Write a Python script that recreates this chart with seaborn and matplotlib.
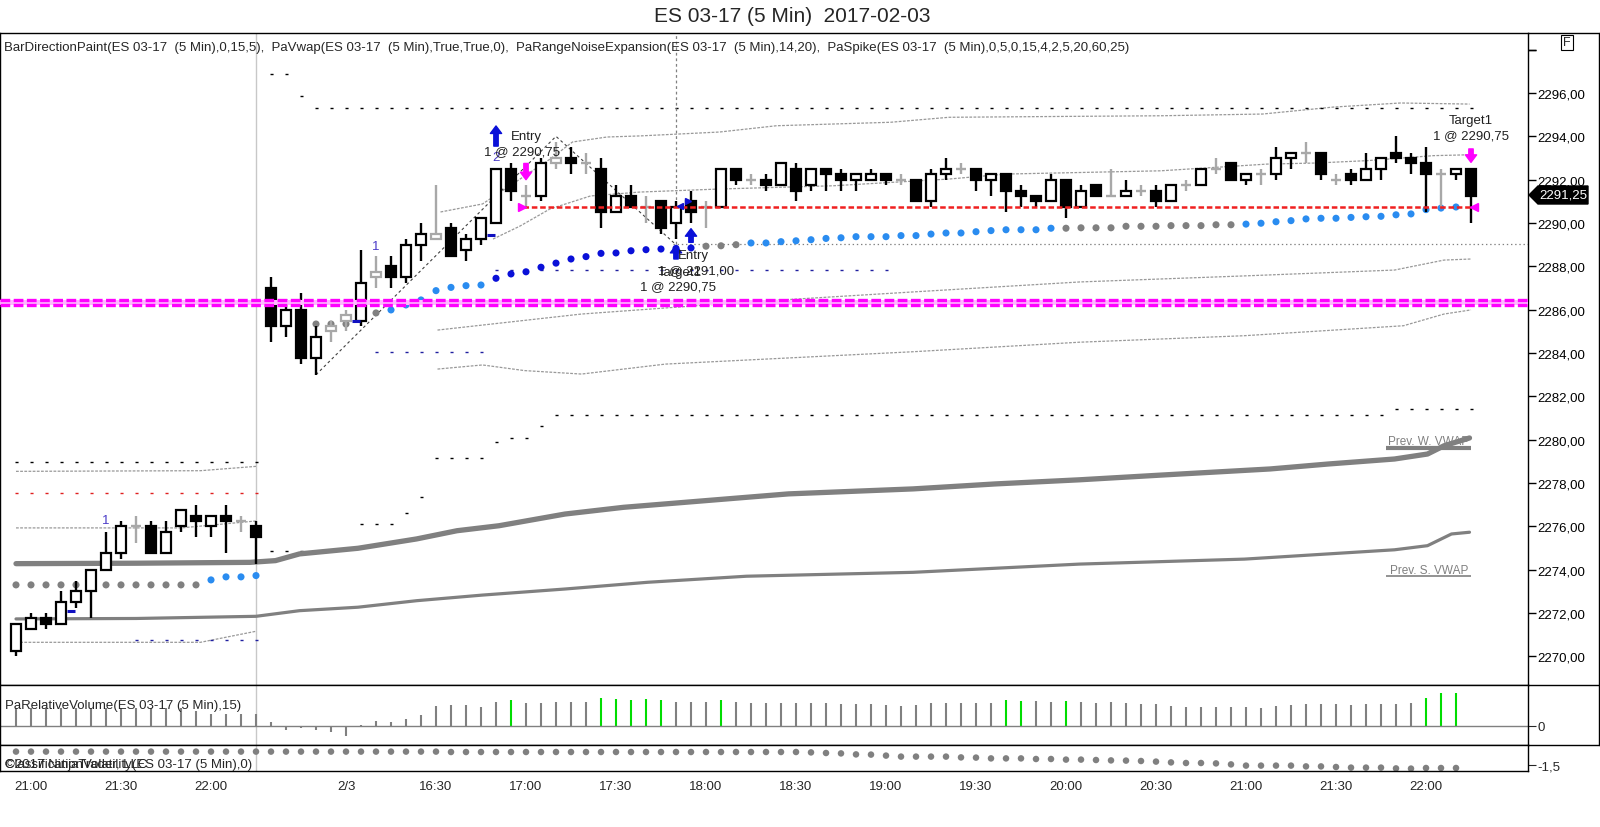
import matplotlib
matplotlib.use("Agg")
import matplotlib.pyplot as plt
import seaborn as sns
from matplotlib.lines import Line2D
from matplotlib.patches import Polygon

# ---------------- data ----------------
title = "ES 03-17 (5 Min)  2017-02-03"
header = ("BarDirectionPaint(ES 03-17  (5 Min),0,15,5),  PaVwap(ES 03-17  (5 Min),True,True,0),  "
          "PaRangeNoiseExpansion(ES 03-17  (5 Min),14,20),  "
          "PaSpike(ES 03-17  (5 Min),0,5,0,15,4,2,5,20,60,25)")

opens = [2270.25, 2271.25, 2271.75, 2271.5, 2272.5, 2273.0, 2274.0, 2274.75, 2276.0, 2276.0,
         2274.75, 2276.0, 2276.5, 2276.0, 2276.5, 2276.25, 2276.0, 2287.0, 2285.25, 2286.0,
         2283.75, 2285.0, 2285.5, 2285.5, 2287.5, 2288.0, 2287.5, 2289.0, 2289.25, 2289.75,
         2288.75, 2289.25, 2290.0, 2292.5, 2291.25, 2291.25, 2292.75, 2293.0, 2292.75, 2292.5,
         2290.5, 2291.25, 2290.75, 2291.0, 2290.0, 2291.0, 2290.75, 2290.75, 2292.5, 2292.0,
         2292.0, 2291.75, 2292.5, 2291.75, 2292.5, 2292.25, 2292.0, 2292.0, 2292.25, 2292.0,
         2292.0, 2291.0, 2292.25, 2292.5, 2292.5, 2292.0, 2292.25, 2291.5, 2291.25, 2291.0,
         2292.0, 2290.75, 2291.75, 2291.25, 2291.25, 2291.5, 2291.5, 2291.0, 2291.75, 2291.75,
         2292.5, 2292.75, 2292.0, 2292.25, 2292.25, 2293.0, 2293.25, 2293.25, 2292.0, 2292.25,
         2292.0, 2292.5, 2293.25, 2293.0, 2292.75, 2292.25, 2292.25, 2292.5]
highs = [2271.5, 2272.0, 2272.0, 2273.0, 2273.5, 2274.0, 2275.75, 2276.25, 2276.5, 2276.25,
         2276.25, 2276.75, 2277.0, 2276.5, 2277.0, 2276.5, 2276.25, 2287.5, 2286.5, 2286.75,
         2285.25, 2285.5, 2286.0, 2288.75, 2288.5, 2288.5, 2289.25, 2290.0, 2291.75, 2290.0,
         2289.5, 2290.25, 2292.5, 2292.75, 2291.75, 2293.0, 2293.75, 2293.5, 2293.25, 2293.0,
         2291.75, 2291.75, 2291.25, 2291.0, 2291.0, 2291.5, 2291.0, 2292.5, 2292.5, 2292.25,
         2292.25, 2292.75, 2292.75, 2292.5, 2292.5, 2292.5, 2292.25, 2292.5, 2292.25, 2292.25,
         2292.0, 2292.5, 2293.0, 2292.75, 2292.5, 2292.25, 2292.25, 2291.75, 2291.25, 2292.25,
         2292.0, 2291.75, 2291.75, 2292.5, 2292.0, 2291.75, 2291.75, 2291.75, 2292.0, 2292.5,
         2293.0, 2292.75, 2292.25, 2292.5, 2293.5, 2293.25, 2293.75, 2293.25, 2292.25, 2292.5,
         2293.25, 2293.0, 2294.0, 2293.25, 2293.5, 2292.5, 2292.5, 2292.5]
lows = [2270.0, 2271.25, 2271.25, 2271.5, 2272.25, 2271.75, 2274.0, 2274.5, 2275.25, 2274.75,
        2274.75, 2275.75, 2275.5, 2275.5, 2274.75, 2275.75, 2274.25, 2284.5, 2284.75, 2283.5,
        2283.0, 2284.5, 2285.0, 2285.25, 2287.0, 2287.0, 2287.25, 2288.25, 2289.25, 2288.5,
        2288.25, 2289.0, 2290.0, 2291.0, 2290.75, 2291.0, 2292.5, 2292.25, 2292.25, 2289.75,
        2290.5, 2290.75, 2290.0, 2289.5, 2289.25, 2290.0, 2289.75, 2290.75, 2291.75, 2291.75,
        2291.5, 2291.75, 2291.0, 2291.5, 2291.5, 2291.5, 2291.5, 2292.0, 2291.75, 2291.75,
        2291.0, 2290.75, 2292.0, 2292.25, 2291.5, 2291.25, 2290.5, 2290.75, 2290.75, 2291.0,
        2290.25, 2290.75, 2291.25, 2291.25, 2291.25, 2291.25, 2290.75, 2291.0, 2291.5, 2291.75,
        2292.25, 2292.0, 2291.75, 2291.75, 2292.0, 2292.5, 2292.75, 2292.0, 2291.75, 2291.75,
        2292.0, 2292.0, 2292.75, 2292.25, 2290.5, 2290.75, 2292.0, 2290.0]
closes = [2271.5, 2271.75, 2271.5, 2272.5, 2273.0, 2274.0, 2274.75, 2276.0, 2276.0, 2274.75,
          2275.75, 2276.75, 2276.25, 2276.5, 2276.25, 2276.25, 2275.5, 2285.25, 2286.0, 2283.75,
          2284.75, 2285.25, 2285.75, 2287.25, 2287.75, 2287.5, 2289.0, 2289.5, 2289.5, 2288.5,
          2289.25, 2290.25, 2292.5, 2291.5, 2291.25, 2292.75, 2293.0, 2292.75, 2292.75, 2290.5,
          2291.25, 2290.75, 2290.75, 2289.75, 2290.75, 2290.5, 2290.75, 2292.5, 2292.0, 2292.0,
          2291.75, 2292.75, 2291.5, 2292.5, 2292.25, 2292.0, 2292.25, 2292.25, 2292.0, 2292.0,
          2291.0, 2292.25, 2292.5, 2292.5, 2292.0, 2292.25, 2291.5, 2291.25, 2291.0, 2292.0,
          2290.75, 2291.5, 2291.25, 2291.25, 2291.5, 2291.5, 2291.0, 2291.75, 2291.75, 2292.5,
          2292.5, 2292.0, 2292.25, 2292.25, 2293.0, 2293.25, 2293.25, 2292.25, 2292.0, 2292.0,
          2292.5, 2293.0, 2293.0, 2292.75, 2292.25, 2292.25, 2292.5, 2291.25]
gray_bars = [8, 15, 21, 22, 24, 28, 34, 36, 38, 42, 46, 49, 59, 63, 73, 75, 78, 80, 83, 86, 88, 95]

# PaVwap dots
dot_bars = list(range(0, 17)) + list(range(20, 97))
dot_vals = [2273.3] * 13 + [2273.53, 2273.67, 2273.67, 2273.73] + [
    2285.34, 2285.34, 2285.34, 2285.6, 2285.85, 2285.99, 2286.22, 2286.45, 2286.88, 2287.03,
    2287.11, 2287.14, 2287.45, 2287.65, 2287.75, 2287.96, 2288.15, 2288.34, 2288.45, 2288.6,
    2288.62, 2288.72, 2288.77, 2288.8, 2288.83, 2288.85, 2288.93, 2288.95, 2289.0, 2289.08,
    2289.08, 2289.14, 2289.18, 2289.23, 2289.29, 2289.32, 2289.37, 2289.37, 2289.37, 2289.42,
    2289.42, 2289.49, 2289.54, 2289.54, 2289.6, 2289.65, 2289.69, 2289.69, 2289.69, 2289.76,
    2289.76, 2289.78, 2289.78, 2289.78, 2289.85, 2289.85, 2289.85, 2289.88, 2289.88, 2289.88,
    2289.92, 2289.92, 2289.95, 2289.99, 2290.06, 2290.11, 2290.19, 2290.22, 2290.22, 2290.26,
    2290.29, 2290.31, 2290.38, 2290.42, 2290.62, 2290.69, 2290.74]
dot_state = (['flat'] * 13 + ['up'] * 4 + ['flat'] * 5 + ['up'] * 7 + ['strong'] * 14
             + ['flat'] * 3 + ['up'] * 21 + ['flat'] * 12 + ['up'] * 15)

# PaVwap lines (session vwap + previous session vwap)
vwap_x = [0, 8, 15.6, 17.3, 18.9, 22.8, 26.7, 29.4, 32.2, 36.6, 40.5, 46, 51.5, 59.8, 65.3,
          70.9, 76.4, 83.6, 87.5, 91.9, 94.1, 95.2, 96.9]
vwap_y = [2274.28, 2274.3, 2274.34, 2274.42, 2274.73, 2274.99, 2275.42, 2275.8, 2276.03,
          2276.57, 2276.88, 2277.19, 2277.5, 2277.73, 2277.96, 2278.15, 2278.37, 2278.65,
          2278.88, 2279.11, 2279.34, 2279.72, 2280.08]
svwap_x = [0, 8, 16, 18.9, 22.8, 26.7, 31.1, 36.6, 42.1, 48.7, 59.8, 70.9, 81.9, 91.9, 94.1,
           95.7, 96.9]
svwap_y = [2271.73, 2271.75, 2271.85, 2272.11, 2272.27, 2272.57, 2272.83, 2273.11, 2273.42,
           2273.7, 2273.88, 2274.26, 2274.49, 2274.92, 2275.11, 2275.65, 2275.73]
prev_w_vwap = 2279.62
prev_s_vwap = 2273.7

# PaRangeNoiseExpansion bands
bands = [
    ([0, 12.3, 16], [2278.54, 2278.57, 2278.77]),
    ([0, 11, 16], [2275.93, 2275.93, 2276.25]),
    ([0, 12.3, 16], [2270.65, 2270.65, 2271.16]),
    ([28.3, 31.1, 33.8, 35.6, 37.1, 39.4, 41.6, 46.9, 50.7, 58.3, 62.2, 69.9, 76.3, 83.1,
      87.8, 92.3, 96.9],
     [2290.51, 2290.88, 2292.12, 2292.95, 2293.74, 2293.97, 2294.02, 2294.2, 2294.49,
      2294.65, 2294.88, 2294.92, 2294.95, 2295.03, 2295.35, 2295.54, 2295.49]),
    ([31.8, 33.6, 35.6, 38.3, 41.6, 46.9, 54.5, 62.2, 66, 76.3, 83.4, 86.7, 90.1, 94.5, 96.9],
     [2289.26, 2289.86, 2290.65, 2291.25, 2291.43, 2291.57, 2291.72, 2292.03, 2292.26,
      2292.41, 2292.72, 2292.77, 2292.88, 2293.11, 2293.15]),
    ([28.1, 37.7, 48.7, 59.8, 70.9, 81.9, 91.9, 95.2, 97],
     [2285.06, 2285.8, 2286.35, 2286.82, 2287.28, 2287.56, 2287.83, 2288.29, 2288.34]),
    ([28.1, 31.1, 33.9, 37.7, 43.3, 59.8, 70.9, 81.9, 92.5, 95.2, 97],
     [2283.26, 2283.45, 2283.19, 2283.03, 2283.49, 2284.06, 2284.5, 2284.8, 2285.26,
      2285.8, 2285.99]),
]

# dashed level steps: (first bar, last bar, price, colour)
steps = [
    (0, 16, 2278.96, 'black'), (0, 16, 2277.54, '#e02020'), (8, 16, 2270.76, '#2020a0'),
    (17, 18, 2296.9, 'black'), (19, 19, 2295.85, 'black'), (20, 97, 2295.33, 'black'),
    (17, 19, 2274.85, 'black'), (23, 25, 2276.1, 'black'), (26, 26, 2276.6, 'black'),
    (27, 27, 2277.37, 'black'), (28, 31, 2279.15, 'black'), (32, 32, 2279.88, 'black'),
    (33, 34, 2280.1, 'black'), (35, 35, 2280.62, 'black'), (36, 91, 2281.14, 'black'),
    (92, 97, 2281.4, 'black'), (24, 31, 2284.06, '#2020a0'), (32, 58, 2287.85, '#2020a0'),
]

spike_marks = [(4, 2272.1), (23, 2285.48), (32, 2289.46)]
swing_labels = [(6, 2276.0, '1'), (24, 2288.65, '1'), (32, 2292.75, '2')]
zigzag_x = [20, 36, 44]
zigzag_y = [2283.0, 2294.0, 2289.0]

magenta_levels = [2286.45, 2286.2]
entry_price = 2290.75
entry_bar = 34
cross_bar = 44
cross_price = 2289.03

# PaRelativeVolume
vol_vals = [1.73] * 12 + [1.5, 1.17, 1.17, 1.17, 1.17,
    0.4, -0.4, -0.23, -0.4, -0.67, -1.0, 0.05, 0.5, 0.4, 0.67, 1.1, 2.0, 2.1, 2.1, 1.83,
    2.4, 2.6, 2.27, 2.27, 2.33, 2.33, 2.33, 2.77, 2.67, 2.6, 2.67, 2.6, 2.4, 2.4, 2.4, 2.6,
    2.4, 2.27, 2.27, 2.27, 2.27, 2.27, 2.27, 2.17, 2.17, 2.17, 2.07, 2.0, 2.07, 2.27, 2.27,
    2.27, 2.27, 2.27, 2.57, 2.43, 2.43, 2.33, 2.43, 2.33, 2.27, 2.33, 2.27, 2.17, 2.17, 2.0,
    1.83, 1.83, 1.83, 1.83, 1.83, 1.73, 2.0, 2.1, 2.17, 2.17, 2.17, 2.07, 2.17, 2.17, 2.17,
    2.27, 2.77, 3.27, 3.27]
vol_green = [33, 39, 40, 41, 42, 43, 47, 66, 67, 70, 94, 95, 96]

# ClassificationVolatility
class_vals = [-0.83] * 29 + [-0.85] * 24 + [
    -0.87, -0.9, -0.92, -0.97, -0.98, -1.03, -1.08, -1.08, -1.08, -1.08, -1.12, -1.13, -1.17,
    -1.17, -1.17, -1.2, -1.2, -1.23, -1.23, -1.25, -1.27, -1.28, -1.3, -1.33, -1.37, -1.4,
    -1.4, -1.42, -1.47, -1.53, -1.53, -1.53, -1.53, -1.57, -1.57, -1.6, -1.63, -1.63, -1.63,
    -1.67, -1.68, -1.65, -1.65, -1.65]

tick_pos = [1, 7, 13, 22, 28, 34, 40, 46, 52, 58, 64, 70, 76, 82, 88, 94]
tick_lab = ['21:00', '21:30', '22:00', '2/3', '16:30', '17:00', '17:30', '18:00', '18:30',
            '19:00', '19:30', '20:00', '20:30', '21:00', '21:30', '22:00']
price_ticks = list(range(2270, 2300, 2))
last_price = 2291.25

# ---------------- drawing ----------------
sns.set_style("white")
plt.rcParams['font.family'] = ['Liberation Sans Narrow', 'Liberation Sans', 'DejaVu Sans']
plt.rcParams['lines.scale_dashes'] = False

W, H = 1600, 828
fig = plt.figure(figsize=(W / 100, H / 100), dpi=100)


def box(top, bottom, right=1528):
    return [0, 1 - bottom / H, right / W, (bottom - top) / H]


ax = fig.add_axes(box(34, 686))
axv = fig.add_axes(box(686, 745.7), sharex=ax)
axc = fig.add_axes(box(745.7, 772.3), sharex=ax)
x_lo, x_hi = -16 / 15, 100.8
ax.set_xlim(x_lo, x_hi)
ax.set_ylim(2268.68, 2298.77)
axv.set_ylim(-1.9, 4.07)
axc.set_ylim(-1.815, -0.485)

for a in (ax, axv, axc):
    for s in a.spines.values():
        s.set_color('black')
        s.set_linewidth(1.0)
    a.axvline(16, color='#c8c8c8', lw=1, zorder=0)

# bands
for bx, by in bands:
    sns.lineplot(x=bx, y=by, ax=ax, color='#999999', lw=0.9, linestyle=(0, (2, 1)),
                 estimator=None, sort=False, zorder=1)

# dashed levels, one dash per bar
for b0, b1, p, c in steps:
    ax.hlines(p, b0 - 0.1, b1 + 0.1, colors=c, lw=1.0, linestyles=[(0, (2.2, 8.6))], zorder=1)

# vwap lines
sns.lineplot(x=vwap_x, y=vwap_y, ax=ax, color='#808080', lw=3.8, estimator=None, sort=False,
             zorder=2)
sns.lineplot(x=svwap_x, y=svwap_y, ax=ax, color='#808080', lw=2.3, estimator=None, sort=False,
             zorder=2)
ax.hlines(prev_w_vwap, 91.3, 97, colors='#808080', lw=3.0, zorder=2)
ax.hlines(prev_s_vwap, 91.3, 97, colors='#808080', lw=1.2, zorder=2)
ax.text(94.2, prev_w_vwap + 0.3, 'Prev. W. VWAP', ha='center', va='center', fontsize=8.5,
        color='#808080')
ax.text(94.2, prev_s_vwap + 0.3, 'Prev. S. VWAP', ha='center', va='center', fontsize=8.5,
        color='#808080')

# zigzag + crosshair
ax.plot(zigzag_x, zigzag_y, color='#404040', lw=0.8, ls=(0, (2, 2)), zorder=2)
ax.vlines(cross_bar, cross_price, 2298.77, colors='#808080', lw=0.9, linestyles=[(0, (2, 2))])
ax.hlines(cross_price, cross_bar - 0.2, x_hi, colors='#808080', lw=0.9, linestyles=[(0, (1, 2))])

# vwap dots
dot_pal = {'flat': '#808080', 'up': '#2a8cf0', 'strong': '#0a10d8'}
sns.scatterplot(x=dot_bars, y=dot_vals, hue=dot_state, palette=dot_pal, ax=ax, s=26,
                edgecolor='none', legend=False, zorder=3)

# candles
for i in range(len(opens)):
    o, h, l, c = opens[i], highs[i], lows[i], closes[i]
    col = '#a8a8a8' if i in gray_bars else 'black'
    ax.vlines(i, l, h, colors=col, lw=1.7, zorder=4)
    if o == c:
        ax.hlines(c, i - 0.36, i + 0.36, colors=col, lw=1.7, zorder=4)
    else:
        face = 'black' if (c < o and i not in gray_bars) else 'white'
        ax.bar(i, abs(c - o), bottom=min(o, c), width=0.66, color=face, edgecolor=col,
               linewidth=1.6, zorder=5)

for b, p in spike_marks:
    ax.hlines(p, b - 0.6, b - 0.1, colors='#1010c0', lw=2.2, zorder=5)
for b, p, t in swing_labels:
    ax.text(b, p, t, ha='center', va='bottom', fontsize=9.5, color='#4b3cc8', zorder=6)

# magenta level
for p in magenta_levels:
    ax.axhline(p, color='#ff00ff', lw=2.4, ls=(0, (7, 2.5)), zorder=6)
ax.axhspan(min(magenta_levels), max(magenta_levels), color='#ffb8ff', lw=0, zorder=5.5)

# trade markers
ax.hlines(entry_price, entry_bar - 0.2, len(opens) - 1, colors='#f02020', lw=1.8,
          linestyles=[(0, (4, 2))], zorder=6)
ax.plot(entry_bar - 0.25, entry_price, marker='>', color='#ff00ff', ms=6, zorder=7)
ax.plot(len(opens) - 1 + 0.2, entry_price, marker='<', color='#ff00ff', ms=6, zorder=7)
ax.plot(cross_bar + 0.25, 2290.8, marker='<', color='#1010d0', ms=5, zorder=7)
ax.plot(cross_bar + 0.8, 2291.0, marker='>', color='#1010d0', ms=5, zorder=7)


def arrow(b, tail, tip, colour):
    ax.annotate('', xy=(b, tip), xytext=(b, tail), zorder=8,
                arrowprops=dict(arrowstyle='simple,head_width=0.9,head_length=0.6,tail_width=0.35',
                                fc=colour, ec=colour, mutation_scale=9, shrinkA=0, shrinkB=0))


arrow(32, 2293.55, 2294.48, '#0a10d8')
arrow(44, 2288.34, 2288.97, '#0a10d8')
arrow(45, 2289.11, 2289.74, '#0a10d8')
arrow(34, 2292.75, 2292.0, '#ff00ff')
arrow(97, 2293.42, 2292.8, '#ff00ff')

tk = dict(fontsize=9.5, color='#202020', zorder=8)
ax.text(33.0, 2294.0, 'Entry', ha='left', va='center', **tk)
ax.text(31.2, 2293.33, '1 @ 2290,75', ha='left', va='center', **tk)
ax.text(44.1, 2288.52, 'Entry', ha='left', va='center', **tk)
ax.text(42.8, 2287.85, '1 @ 2291,00', ha='left', va='center', **tk)
ax.text(42.8, 2287.73, 'Target1', ha='left', va='center', **tk)
ax.text(41.6, 2287.08, '1 @ 2290,75', ha='left', va='center', **tk)
ax.text(97, 2294.77, 'Target1', ha='center', va='center', **tk)
ax.text(97, 2294.06, '1 @ 2290,75', ha='center', va='center', **tk)

# right price axis
ax.yaxis.tick_right()
ax.set_yticks(price_ticks + [2298])
ax.set_yticklabels([f"{v:.2f}".replace('.', ',') for v in price_ticks] + [''])
ax.tick_params(axis='y', direction='out', length=6, width=1, pad=1, labelsize=9.5,
               colors='black')
ax.tick_params(axis='x', bottom=False, labelbottom=False)

# volume panel
vcol = ['#00dd00' if i in vol_green else '#808080' for i in range(len(vol_vals))]
axv.vlines(range(len(vol_vals)), 0, vol_vals, colors=vcol, lw=1.5)
axv.axhline(0, color='#808080', lw=1)
axv.yaxis.tick_right()
axv.set_yticks([0])
axv.set_yticklabels(['0'])
axv.tick_params(axis='y', direction='out', length=6, pad=1, labelsize=9.5)
axv.tick_params(axis='x', bottom=False, labelbottom=False)
axv.text(0.003, 0.66, 'PaRelativeVolume(ES 03-17 (5 Min),15)', transform=axv.transAxes,
         fontsize=9.5, va='center', ha='left')

# volatility panel
sns.scatterplot(x=list(range(len(class_vals))), y=class_vals, ax=axc, color='#808080', s=22,
                edgecolor='none', legend=False)
axc.yaxis.tick_right()
axc.set_yticks([-1.5])
axc.set_yticklabels(['-1,5'])
axc.tick_params(axis='y', direction='out', length=6, pad=1, labelsize=9.5)
axc.set_xticks(tick_pos)
axc.set_xticklabels(tick_lab)
axc.tick_params(axis='x', direction='out', length=5, pad=1.5, labelsize=9.5)
axc.text(0.003, 0.27, 'ClassificationVolatility(ES 03-17 (5 Min),0)', transform=axc.transAxes,
         fontsize=9.5, va='center', ha='left')
axc.text(0.003, 0.27, '\u00a92017 NinjaTrader, LLC', transform=axc.transAxes,
         fontsize=9.5, va='center', ha='left')
for a in (ax, axv, axc):
    a.set_xlabel('')
    a.set_ylabel('')

# frame extensions past the price axis
for py in (34, 686, 745.7):
    fig.add_artist(Line2D([1528 / W, 1], [1 - py / H] * 2, color='black', lw=1))
fig.add_artist(Line2D([1599 / W] * 2, [1 - 34 / H, 1 - 745.7 / H], color='black', lw=1))

# last price tag
ty = 1 - 196 / H
tag = Polygon([(1529 / W, ty), (1538 / W, ty + 9 / H), (1588 / W, ty + 9 / H),
               (1588 / W, ty - 9 / H), (1538 / W, ty - 9 / H)], closed=True,
              transform=fig.transFigure, fc='black', ec='black')
fig.add_artist(tag)
fig.text(1563 / W, ty, f"{last_price:.2f}".replace('.', ','), color='white', fontsize=9.5,
         ha='center', va='center')

fig.text(1567 / W, 1 - 43.5 / H, 'F', fontsize=9, ha='center', va='center',
         bbox=dict(boxstyle='square,pad=0.15', fc='white', ec='black', lw=0.8))
fig.text(792 / W, 1 - 16 / H, title, fontsize=15, ha='center', va='center')
fig.text(4 / W, 1 - 48 / H, header, fontsize=9.5, ha='left', va='center')

fig.savefig('out.png', dpi=100)
